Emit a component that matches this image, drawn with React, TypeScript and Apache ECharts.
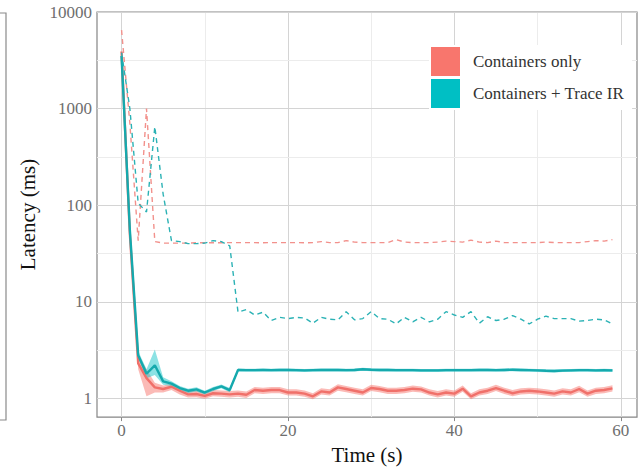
import React, { useEffect, useRef } from "react";
import * as echarts from "echarts";

const FONT = "Liberation Serif";

const times = [0,1,2,3,4,5,6,7,8,9,10,11,12,13,14,15,16,17,18,19,20,21,22,23,24,25,26,27,28,29,30,31,32,33,34,35,36,37,38,39,40,41,42,43,44,45,46,47,48,49,50,51,52,53,54,55,56,57,58,59];

const redMedian = [3900,50,2.3,1.62,1.3,1.25,1.32,1.2,1.1,1.11,1.06,1.13,1.12,1.1,1.12,1.09,1.22,1.2,1.22,1.22,1.15,1.15,1.12,1.05,1.18,1.15,1.3,1.25,1.2,1.15,1.28,1.25,1.2,1.2,1.22,1.26,1.24,1.15,1.1,1.15,1.12,1.26,1.05,1.15,1.2,1.28,1.2,1.13,1.18,1.2,1.18,1.15,1.12,1.18,1.15,1.25,1.12,1.2,1.22,1.27];
const redLower = [3600,45,2.0,1.05,1.15,1.15,1.22,1.1,1.02,1.03,0.99,1.05,1.04,1.02,1.04,1.01,1.13,1.11,1.13,1.13,1.07,1.07,1.04,0.98,1.1,1.07,1.2,1.16,1.11,1.07,1.19,1.16,1.11,1.11,1.13,1.17,1.15,1.07,1.02,1.07,1.04,1.17,0.98,1.07,1.11,1.19,1.11,1.05,1.1,1.11,1.1,1.07,1.04,1.1,1.07,1.16,1.04,1.11,1.13,1.18];
const redUpper = [4200,56,2.8,2.0,1.45,1.36,1.42,1.3,1.19,1.2,1.14,1.22,1.21,1.19,1.21,1.18,1.31,1.29,1.31,1.31,1.24,1.24,1.21,1.13,1.27,1.24,1.4,1.34,1.29,1.24,1.38,1.34,1.29,1.29,1.31,1.36,1.33,1.24,1.19,1.24,1.21,1.36,1.13,1.24,1.29,1.38,1.29,1.22,1.27,1.29,1.27,1.24,1.21,1.27,1.24,1.35,1.21,1.29,1.31,1.37];
const redTail = [6500,700,43,1000,42,40.5,40.5,40.5,40.5,40.8,40.8,40.8,40.8,41,41,41,41,40.8,41,41,41,41,40.8,41,42,41,41,43,41.5,41,41,41,41,44,41.5,41,41,41,41.5,42.5,42,41.5,43.5,41.5,41,42.5,41,41,41,41,41,41.5,41,41,41,41,42,43,42.5,44];

const tealMedian = [3500,55,2.8,1.8,2.2,1.5,1.42,1.28,1.2,1.24,1.15,1.25,1.33,1.22,1.97,1.96,1.96,1.97,1.96,1.97,1.97,1.96,1.95,1.96,1.97,1.97,1.97,1.96,1.97,2.0,1.98,1.97,1.97,1.96,1.96,1.96,1.95,1.95,1.95,1.96,1.96,1.96,1.96,1.97,1.97,1.96,1.97,1.98,1.97,1.96,1.95,1.93,1.92,1.94,1.95,1.96,1.96,1.95,1.96,1.95];
const tealLower = [3300,50,2.6,1.62,1.75,1.38,1.34,1.22,1.14,1.18,1.1,1.19,1.27,1.16,1.9,1.89,1.89,1.9,1.89,1.9,1.9,1.89,1.88,1.89,1.9,1.9,1.9,1.89,1.9,1.93,1.91,1.9,1.9,1.89,1.89,1.89,1.88,1.88,1.88,1.89,1.89,1.89,1.89,1.9,1.9,1.89,1.9,1.91,1.9,1.89,1.88,1.86,1.85,1.87,1.88,1.89,1.89,1.88,1.89,1.88];
const tealUpper = [3700,60,3.1,2.0,3.2,1.65,1.5,1.34,1.26,1.3,1.2,1.31,1.39,1.28,2.04,2.03,2.03,2.04,2.03,2.04,2.04,2.03,2.02,2.03,2.04,2.04,2.04,2.03,2.04,2.07,2.05,2.04,2.04,2.03,2.03,2.03,2.02,2.02,2.02,2.03,2.03,2.03,2.03,2.04,2.04,2.03,2.04,2.05,2.04,2.03,2.02,2.0,1.99,2.01,2.02,2.03,2.03,2.02,2.03,2.02];
const tealTail = [3800,1000,105,85,650,130,43,42,40,40,40.5,43,42,38,7.8,8.3,7.3,7.8,6.4,6.9,6.7,6.9,6.8,6.0,6.9,6.6,6.5,7.9,6.5,6.7,7.9,6.7,6.6,5.9,6.9,6.2,6.9,6.2,6.6,7.9,7.3,6.9,7.9,6.0,7.0,6.4,6.6,7.2,6.6,5.9,6.6,7.1,6.7,6.7,6.7,6.3,6.4,6.6,6.5,5.9];

const xTicks = [0, 20, 40, 60];
const xMinorGrid = [10, 30, 50];
const yTicks = [1, 10, 100, 1000, 10000];
const yMinorGrid = [3.162, 31.62, 316.2, 3162];

const NAME_A = "Containers only";
const NAME_B = "Containers + Trace IR";

const pairs = (ys: number[]) => times.map((t, i) => [t, ys[i]]);

function bandSeries(name: string, lo: number[], hi: number[], fill: string) {
  return {
    name,
    type: "custom",
    coordinateSystem: "cartesian2d",
    silent: true,
    z: 2,
    data: times.map((t, i) => [t, lo[i], hi[i]]),
    encode: { x: 0, y: [1, 2] },
    renderItem: (params: any, api: any) => {
      if (params.dataIndex !== 0) return null;
      const upper = times.map((t, i) => api.coord([t, hi[i]]));
      const lower = times.map((t, i) => api.coord([t, lo[i]])).reverse();
      return {
        type: "polygon",
        shape: { points: upper.concat(lower) },
        style: { fill, stroke: "none" },
      };
    },
  };
}

export default function App() {
  const ref = useRef<HTMLDivElement>(null);
  useEffect(() => {
    if (!ref.current) return;
    const chart = echarts.init(ref.current, null, { renderer: "svg" });
    const gridLines = [
      ...xTicks.map((v) => ({ xAxis: v, lineStyle: { color: "#d4d4d4", width: 1, type: "solid" } })),
      ...xMinorGrid.map((v) => ({ xAxis: v, lineStyle: { color: "#ececec", width: 1, type: "solid" } })),
      ...yTicks.map((v) => ({ yAxis: v, lineStyle: { color: "#d4d4d4", width: 1, type: "solid" } })),
      ...yMinorGrid.map((v) => ({ yAxis: v, lineStyle: { color: "#ececec", width: 1, type: "solid" } })),
    ];
    const plain = (v: number) => String(Math.round(v));
    chart.setOption({
      animation: false,
      backgroundColor: "#fff",
      textStyle: { fontFamily: FONT },
      grid: {
        left: 97, top: 12, right: 2, bottom: 49, show: true,
        borderColor: "#858585", borderWidth: 1.2, backgroundColor: "transparent",
      },
      graphic: [
        { type: "polyline", silent: true, shape: { points: [[0, 13], [6, 13], [6, 420], [0, 420]] }, style: { stroke: "#8a8a8a", lineWidth: 1.2, fill: "none" } },
      ],
      legend: {
        orient: "vertical", left: 429, top: 45, padding: [2, 8, 2, 2],
        backgroundColor: "#fff", itemWidth: 29, itemHeight: 29, itemGap: 3, icon: "rect",
        selectedMode: false,
        textStyle: { fontFamily: FONT, fontSize: 17, color: "#333", padding: [0, 0, 0, 8] },
        data: [
          { name: NAME_A, itemStyle: { color: "#F8766D", borderWidth: 0 } },
          { name: NAME_B, itemStyle: { color: "#00BFC4", borderWidth: 0 } },
        ],
      },
      xAxis: {
        type: "value", min: -2.95, max: 61.95,
        axisLine: { show: false },
        axisTick: { show: true, customValues: xTicks, length: 4, lineStyle: { color: "#888" } },
        axisLabel: { customValues: xTicks, color: "#6e6e6e", fontFamily: FONT, fontSize: 17, margin: 5, formatter: plain },
        splitLine: { show: false },
        name: "Time (s)", nameLocation: "middle", nameGap: 21,
        nameTextStyle: { fontFamily: FONT, fontSize: 21, color: "#111" },
      },
      yAxis: {
        type: "log", logBase: 10, min: 0.64, max: 10000,
        axisLine: { show: false },
        axisTick: { show: true, customValues: yTicks, length: 4, lineStyle: { color: "#888" } },
        axisLabel: { customValues: yTicks, color: "#6e6e6e", fontFamily: FONT, fontSize: 17, margin: 5, formatter: plain },
        splitLine: { show: false },
        minorSplitLine: { show: false },
        name: "Latency (ms)", nameLocation: "middle", nameGap: 55,
        nameTextStyle: { fontFamily: FONT, fontSize: 21, color: "#111" },
      },
      series: [
        {
          name: "grid", type: "line", data: [], symbol: "none", silent: true,
          markLine: { silent: true, symbol: ["none", "none"], label: { show: false }, z: 1, animation: false, data: gridLines },
        },
        bandSeries(NAME_A, redLower, redUpper, "rgba(248,118,109,0.5)"),
        bandSeries(NAME_B, tealLower, tealUpper, "rgba(0,191,196,0.45)"),
        {
          name: NAME_A, type: "line", data: pairs(redMedian), symbol: "none", silent: true, z: 3,
          lineStyle: { color: "#F0706A", width: 2.4 },
        },
        {
          name: NAME_B, type: "line", data: pairs(tealMedian), symbol: "none", silent: true, z: 3,
          lineStyle: { color: "#15A9AD", width: 2.4 },
        },
        {
          name: NAME_A, type: "line", data: pairs(redTail), symbol: "none", silent: true, z: 4,
          lineStyle: { color: "#F2918C", width: 1.4, type: [5, 4] },
        },
        {
          name: NAME_B, type: "line", data: pairs(tealTail), symbol: "none", silent: true, z: 4,
          lineStyle: { color: "#2BB2B5", width: 1.4, type: [5, 4] },
        },
      ],
    });
    return () => chart.dispose();
  }, []);
  return <div ref={ref} style={{ position: "fixed", left: 0, top: 0, width: 639, height: 470 }} />;
}
